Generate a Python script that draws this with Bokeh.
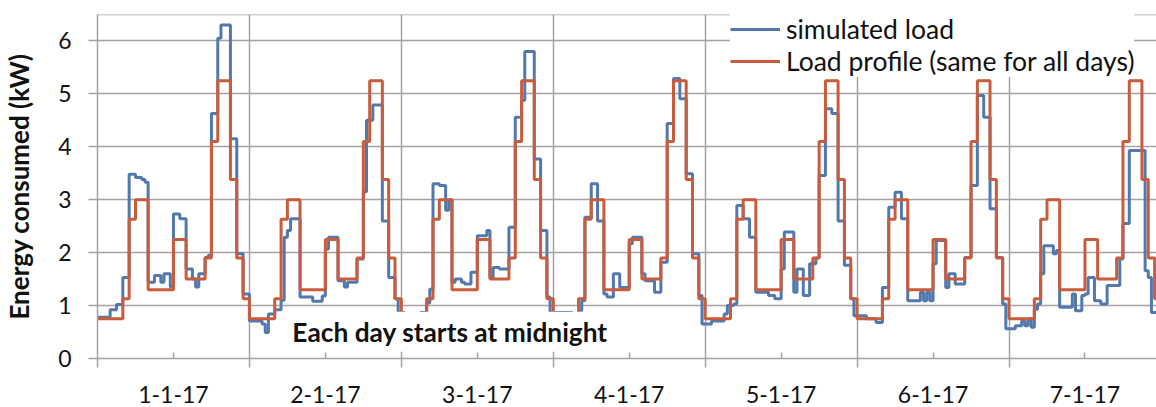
import numpy as np
from bokeh.plotting import figure
from bokeh.models import Range1d, FixedTicker, Legend, LegendItem, Label, Span
from bokeh.embed import file_html
from bokeh.resources import INLINE

# ---------------- data ----------------
day_labels = ["1-1-17", "2-1-17", "3-1-17", "4-1-17", "5-1-17", "6-1-17", "7-1-17"]
y_ticks = [0, 1, 2, 3, 4, 5, 6]

# load profile, one value per hour (same for all days)
profile_hourly = [0.75, 0.75, 0.75, 0.75, 1.13, 2.63, 3.00, 3.00,
                  1.30, 1.30, 1.30, 1.30, 2.25, 2.25, 1.50, 1.50,
                  1.50, 1.90, 4.10, 5.25, 5.25, 3.38, 1.90, 1.13]

# simulated load, one value per half hour
sim_d1 = [0.78, 0.78, 0.78, 0.78, 0.92, 0.92, 1.02, 1.02, 1.53, 1.53, 3.48, 3.48,
          3.42, 3.42, 3.38, 3.33, 1.44, 1.44, 1.57, 1.57, 1.44, 1.60, 1.60, 1.35,
          2.73, 2.73, 2.64, 2.64, 1.69, 1.69, 1.50, 1.35, 1.60, 1.60, 1.91, 1.95,
          4.63, 4.63, 6.05, 6.30, 6.30, 6.30, 4.15, 4.15, 1.98, 1.98, 1.22, 1.22]
sim_d2 = [0.71, 0.71, 0.71, 0.71, 0.65, 0.49, 0.84, 0.84, 0.92, 0.92, 1.10, 2.29,
          2.42, 2.64, 2.64, 2.64, 1.16, 1.16, 1.16, 1.16, 1.08, 1.08, 1.08, 1.18,
          2.07, 2.29, 2.29, 2.29, 1.47, 1.47, 1.35, 1.44, 1.44, 1.44, 1.88, 1.88,
          3.15, 4.50, 4.50, 4.79, 4.79, 4.79, 2.60, 2.60, 1.53, 1.53, 1.13, 0.87]
sim_d3 = [0.87, 0.85, 0.80, 0.78, 0.80, 0.85, 0.87, 0.87, 1.05, 1.31, 3.30, 3.30,
          3.27, 3.27, 2.80, 3.00, 1.44, 1.50, 1.50, 1.44, 1.41, 1.41, 1.63, 1.63,
          2.32, 2.32, 2.32, 2.42, 1.53, 1.72, 1.72, 1.69, 1.69, 1.69, 2.48, 2.48,
          4.56, 4.56, 4.88, 5.80, 5.80, 5.80, 3.77, 3.77, 2.42, 2.42, 1.16, 0.87]
sim_d4 = [0.87, 0.87, 0.87, 0.87, 0.87, 0.87, 0.80, 0.80, 0.90, 1.09, 2.67, 2.67,
          3.30, 3.30, 2.60, 2.60, 1.22, 1.16, 1.16, 1.60, 1.60, 1.34, 1.34, 1.34,
          2.17, 2.29, 2.29, 2.29, 1.60, 1.47, 1.47, 1.47, 1.25, 1.25, 1.82, 1.82,
          4.44, 4.44, 5.29, 5.29, 4.91, 4.91, 3.49, 3.49, 1.98, 1.98, 1.19, 0.65]
sim_d5 = [0.65, 0.65, 0.71, 0.71, 0.71, 0.71, 0.84, 1.00, 1.00, 1.03, 2.89, 2.89,
          2.64, 2.64, 2.29, 2.29, 1.25, 1.25, 1.25, 1.25, 1.19, 1.19, 1.13, 1.13,
          1.69, 2.39, 2.39, 2.39, 1.25, 1.69, 1.69, 1.19, 1.19, 1.79, 1.79, 1.90,
          3.46, 3.46, 4.72, 4.72, 4.63, 4.63, 2.60, 2.60, 1.76, 1.76, 1.13, 0.81]
sim_d6 = [0.81, 0.81, 0.81, 0.75, 0.75, 0.75, 0.68, 0.68, 1.34, 1.34, 2.86, 2.86,
          3.14, 3.14, 2.64, 2.64, 1.09, 1.09, 1.09, 1.09, 1.25, 1.09, 1.25, 1.09,
          1.79, 2.23, 2.23, 2.23, 1.34, 1.60, 1.60, 1.41, 1.41, 1.41, 1.91, 1.91,
          3.27, 3.27, 4.97, 4.97, 4.56, 4.56, 2.83, 2.83, 1.91, 1.91, 1.03, 0.56]
sim_d7 = [0.56, 0.56, 0.62, 0.62, 0.71, 0.62, 0.75, 0.59, 0.93, 1.03, 1.60, 2.13,
          2.13, 2.13, 1.98, 2.04, 0.97, 0.97, 0.97, 0.97, 1.22, 0.90, 0.90, 1.19,
          1.22, 1.53, 1.53, 1.09, 1.09, 1.03, 1.03, 1.38, 1.38, 1.38, 1.38, 1.88,
          2.55, 2.55, 3.93, 3.93, 3.93, 3.93, 3.93, 1.66, 1.53, 0.87, 0.87, 0.87]

simulated = sim_d1 + sim_d2 + sim_d3 + sim_d4 + sim_d5 + sim_d6 + sim_d7
profile = profile_hourly * len(day_labels)

# ---------------- styling ----------------
BLUE = "#5279AE"
RED = "#C85C3D"
GRID = "#A9A1A1"
TEXT = "#111111"
FONT = "Lato"

n_days = len(day_labels)
sim_x = list(np.arange(len(simulated) + 1) * 0.5)
sim_y = simulated + [simulated[-1]]
prof_x = list(np.arange(len(profile) + 1) * 1.0)
prof_y = profile + [profile[-1]]

p = figure(width=1156, height=407, output_backend="svg", toolbar_location=None,
           x_range=Range1d(0, 167.3), y_range=Range1d(0, 6.5),
           min_border_left=95, min_border_right=0, min_border_top=14, min_border_bottom=49)
p.outline_line_color = None
p.background_fill_color = "white"
p.border_fill_color = "white"

r_blue = p.step(sim_x, sim_y, mode="after", line_color=BLUE, line_width=3)
r_red = p.step(prof_x, prof_y, mode="after", line_color=RED, line_width=3)

# y axis
p.yaxis.ticker = FixedTicker(ticks=y_ticks)
p.yaxis.axis_line_color = GRID
p.yaxis.axis_line_width = 1.5
p.yaxis.major_tick_line_color = GRID
p.yaxis.major_tick_line_width = 1.5
p.yaxis.major_tick_in = 0
p.yaxis.major_tick_out = 9
p.yaxis.minor_tick_line_color = None
p.yaxis.major_label_text_font = FONT
p.yaxis.major_label_text_font_size = "23px"
p.yaxis.major_label_text_color = TEXT
p.yaxis.major_label_standoff = 17
p.yaxis.axis_label = "Energy consumed (kW)"
p.yaxis.axis_label_text_font = FONT
p.yaxis.axis_label_text_font_style = "bold"
p.yaxis.axis_label_text_font_size = "26px"
p.yaxis.axis_label_text_color = TEXT
p.yaxis.axis_label_standoff = 20

# x axis: labels at mid-day, boundary ticks at midnight
mid_ticks = [24 * i + 12 for i in range(n_days)]
day_edges = [24 * i for i in range(n_days + 1)]
p.xaxis.ticker = FixedTicker(ticks=mid_ticks, minor_ticks=day_edges)
p.xaxis.major_label_overrides = {t: lab for t, lab in zip(mid_ticks, day_labels)}
p.xaxis.axis_line_color = GRID
p.xaxis.axis_line_width = 1.5
p.xaxis.major_tick_line_color = GRID
p.xaxis.major_tick_line_width = 1.5
p.xaxis.major_tick_in = 6
p.xaxis.major_tick_out = 0
p.xaxis.minor_tick_line_color = GRID
p.xaxis.minor_tick_line_width = 1.5
p.xaxis.minor_tick_in = 0
p.xaxis.minor_tick_out = 9
p.xaxis.major_label_text_font = FONT
p.xaxis.major_label_text_font_size = "23px"
p.xaxis.major_label_text_color = TEXT
p.xaxis.major_label_standoff = 18

# grids
p.xgrid.ticker = FixedTicker(ticks=day_edges)
p.ygrid.ticker = FixedTicker(ticks=y_ticks[1:])
for g in (p.xgrid, p.ygrid):
    g.grid_line_color = GRID
    g.grid_line_width = 1.5

# legend (white box, no border)
legend = Legend(items=[LegendItem(label="simulated load", renderers=[r_blue]),
                       LegendItem(label="Load profile (same for all days)", renderers=[r_red])],
                location=(633, 281), glyph_width=50, glyph_height=28, label_height=28,
                label_standoff=6, padding=4, spacing=-3, margin=0,
                border_line_color=None, background_fill_color="white", background_fill_alpha=1,
                label_text_font=FONT, label_text_font_size="26.5px", label_text_color=TEXT)
p.add_layout(legend)

# annotation text with white background
note = Label(x=55.7, y=0.505, text="Each day starts at midnight",
             text_font=FONT, text_font_style="bold", text_font_size="26.3px",
             text_color=TEXT, text_align="center", text_baseline="middle",
             background_fill_color="white", background_fill_alpha=1,
             padding=dict(left=8, right=8, top=4, bottom=4))
p.add_layout(note)

# plot-area top border
p.add_layout(Span(location=6.5, dimension="width", line_color=GRID, line_width=1.5))

open("out.html", "w").write(file_html(p, INLINE))
